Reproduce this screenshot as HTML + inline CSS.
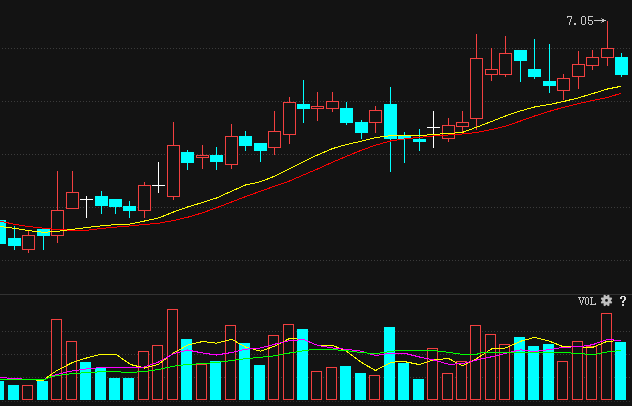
<!DOCTYPE html><html><head><meta charset="utf-8"><style>html,body{margin:0;padding:0;background:#131313;overflow:hidden}body{width:632px;height:406px;font-family:"Liberation Sans",sans-serif}</style></head><body><svg width="632" height="406" viewBox="0 0 632 406" style="display:block">
<rect width="632" height="406" fill="#131313"/>
<line x1="2" x2="632" y1="48.5" y2="48.5" stroke="#3b3b3b" stroke-width="1" stroke-dasharray="1 2" shape-rendering="crispEdges"/>
<line x1="2" x2="632" y1="101.5" y2="101.5" stroke="#3b3b3b" stroke-width="1" stroke-dasharray="1 2" shape-rendering="crispEdges"/>
<line x1="2" x2="632" y1="154.5" y2="154.5" stroke="#3b3b3b" stroke-width="1" stroke-dasharray="1 2" shape-rendering="crispEdges"/>
<line x1="2" x2="632" y1="207.5" y2="207.5" stroke="#3b3b3b" stroke-width="1" stroke-dasharray="1 2" shape-rendering="crispEdges"/>
<line x1="2" x2="632" y1="260.5" y2="260.5" stroke="#3b3b3b" stroke-width="1" stroke-dasharray="1 2" shape-rendering="crispEdges"/>
<line x1="2" x2="632" y1="331.5" y2="331.5" stroke="#3b3b3b" stroke-width="1" stroke-dasharray="1 2" shape-rendering="crispEdges"/>
<line x1="2" x2="632" y1="354.5" y2="354.5" stroke="#3b3b3b" stroke-width="1" stroke-dasharray="1 2" shape-rendering="crispEdges"/>
<line x1="2" x2="632" y1="377.5" y2="377.5" stroke="#3b3b3b" stroke-width="1" stroke-dasharray="1 2" shape-rendering="crispEdges"/>
<line x1="2" x2="632" y1="401.5" y2="401.5" stroke="#2e2e2e" stroke-width="1" stroke-dasharray="1 2" shape-rendering="crispEdges"/>
<rect x="0" y="294" width="632" height="1" fill="#323232"/>
<rect x="-1.0" y="220.00" width="1" height="24.00" fill="#00ffff"/>
<rect x="-7" y="220.00" width="13" height="24.00" fill="#00ffff"/>
<rect x="14.0" y="226.00" width="1" height="24.00" fill="#00ffff"/>
<rect x="8" y="238.00" width="13" height="8.00" fill="#00ffff"/>
<rect x="28.0" y="230.00" width="1" height="5.00" fill="#f24040"/>
<rect x="28.0" y="250.00" width="1" height="3.00" fill="#f24040"/>
<rect x="22.5" y="235.50" width="12" height="14.00" fill="#131313" stroke="#f24040" stroke-width="1"/>
<rect x="43.0" y="229.00" width="1" height="21.00" fill="#00ffff"/>
<rect x="37" y="229.00" width="13" height="7.00" fill="#00ffff"/>
<rect x="57.0" y="171.00" width="1" height="39.00" fill="#f24040"/>
<rect x="57.0" y="236.00" width="1" height="7.00" fill="#f24040"/>
<rect x="51.5" y="210.50" width="12" height="25.00" fill="#131313" stroke="#f24040" stroke-width="1"/>
<rect x="72.0" y="171.00" width="1" height="21.00" fill="#f24040"/>
<rect x="72.0" y="209.00" width="1" height="0.00" fill="#f24040"/>
<rect x="66.5" y="192.50" width="12" height="16.00" fill="#131313" stroke="#f24040" stroke-width="1"/>
<rect x="86.0" y="196.00" width="1" height="22.00" fill="#fff"/>
<rect x="80" y="199.00" width="13" height="1" fill="#fff"/>
<rect x="101.0" y="191.00" width="1" height="23.00" fill="#00ffff"/>
<rect x="95" y="196.00" width="13" height="10.00" fill="#00ffff"/>
<rect x="115.0" y="199.00" width="1" height="15.00" fill="#00ffff"/>
<rect x="109" y="199.00" width="13" height="8.00" fill="#00ffff"/>
<rect x="129.0" y="201.00" width="1" height="17.00" fill="#00ffff"/>
<rect x="123" y="206.00" width="13" height="5.00" fill="#00ffff"/>
<rect x="144.0" y="182.00" width="1" height="3.00" fill="#f24040"/>
<rect x="144.0" y="211.00" width="1" height="7.00" fill="#f24040"/>
<rect x="138.5" y="185.50" width="12" height="25.00" fill="#131313" stroke="#f24040" stroke-width="1"/>
<rect x="158.0" y="162.00" width="1" height="31.00" fill="#fff"/>
<rect x="152" y="185.00" width="13" height="1" fill="#fff"/>
<rect x="173.0" y="122.00" width="1" height="23.00" fill="#f24040"/>
<rect x="173.0" y="197.00" width="1" height="3.00" fill="#f24040"/>
<rect x="167.5" y="145.50" width="12" height="51.00" fill="#131313" stroke="#f24040" stroke-width="1"/>
<rect x="187.0" y="150.00" width="1" height="20.00" fill="#00ffff"/>
<rect x="181" y="152.00" width="13" height="11.00" fill="#00ffff"/>
<rect x="202.0" y="145.00" width="1" height="10.00" fill="#f24040"/>
<rect x="202.0" y="158.00" width="1" height="11.00" fill="#f24040"/>
<rect x="196.5" y="155.50" width="12" height="2.00" fill="#131313" stroke="#f24040" stroke-width="1"/>
<rect x="216.0" y="147.00" width="1" height="23.00" fill="#00ffff"/>
<rect x="210" y="155.00" width="13" height="7.00" fill="#00ffff"/>
<rect x="231.0" y="124.00" width="1" height="12.00" fill="#f24040"/>
<rect x="231.0" y="165.00" width="1" height="4.00" fill="#f24040"/>
<rect x="225.5" y="136.50" width="12" height="28.00" fill="#131313" stroke="#f24040" stroke-width="1"/>
<rect x="245.0" y="131.00" width="1" height="20.00" fill="#00ffff"/>
<rect x="239" y="136.00" width="13" height="10.00" fill="#00ffff"/>
<rect x="260.0" y="143.00" width="1" height="19.00" fill="#00ffff"/>
<rect x="254" y="143.00" width="13" height="8.00" fill="#00ffff"/>
<rect x="274.0" y="111.00" width="1" height="20.00" fill="#f24040"/>
<rect x="274.0" y="148.00" width="1" height="7.00" fill="#f24040"/>
<rect x="268.5" y="131.50" width="12" height="16.00" fill="#131313" stroke="#f24040" stroke-width="1"/>
<rect x="289.0" y="97.00" width="1" height="5.00" fill="#f24040"/>
<rect x="289.0" y="135.00" width="1" height="9.00" fill="#f24040"/>
<rect x="283.5" y="102.50" width="12" height="32.00" fill="#131313" stroke="#f24040" stroke-width="1"/>
<rect x="303.0" y="80.00" width="1" height="43.00" fill="#00ffff"/>
<rect x="297" y="104.00" width="13" height="5.00" fill="#00ffff"/>
<rect x="317.0" y="92.00" width="1" height="14.00" fill="#f24040"/>
<rect x="317.0" y="109.00" width="1" height="12.00" fill="#f24040"/>
<rect x="311.5" y="106.50" width="12" height="2.00" fill="#131313" stroke="#f24040" stroke-width="1"/>
<rect x="332.0" y="92.00" width="1" height="9.00" fill="#f24040"/>
<rect x="332.0" y="109.00" width="1" height="3.00" fill="#f24040"/>
<rect x="326.5" y="101.50" width="12" height="7.00" fill="#131313" stroke="#f24040" stroke-width="1"/>
<rect x="346.0" y="102.00" width="1" height="23.00" fill="#00ffff"/>
<rect x="340" y="108.00" width="13" height="15.00" fill="#00ffff"/>
<rect x="361.0" y="120.00" width="1" height="19.00" fill="#00ffff"/>
<rect x="355" y="122.00" width="13" height="11.00" fill="#00ffff"/>
<rect x="375.0" y="106.00" width="1" height="4.00" fill="#f24040"/>
<rect x="375.0" y="123.00" width="1" height="10.00" fill="#f24040"/>
<rect x="369.5" y="110.50" width="12" height="12.00" fill="#131313" stroke="#f24040" stroke-width="1"/>
<rect x="390.0" y="87.00" width="1" height="85.00" fill="#00ffff"/>
<rect x="384" y="104.00" width="13" height="35.00" fill="#00ffff"/>
<rect x="404.0" y="132.00" width="1" height="31.00" fill="#00ffff"/>
<rect x="398" y="135.00" width="13" height="4.00" fill="#00ffff"/>
<rect x="419.0" y="129.00" width="1" height="22.00" fill="#00ffff"/>
<rect x="413" y="139.00" width="13" height="3.00" fill="#00ffff"/>
<rect x="433.0" y="111.00" width="1" height="37.00" fill="#fff"/>
<rect x="427" y="127.00" width="13" height="1" fill="#fff"/>
<rect x="448.0" y="118.00" width="1" height="7.00" fill="#f24040"/>
<rect x="448.0" y="139.00" width="1" height="3.00" fill="#f24040"/>
<rect x="442.5" y="125.50" width="12" height="13.00" fill="#131313" stroke="#f24040" stroke-width="1"/>
<rect x="462.0" y="111.00" width="1" height="11.00" fill="#f24040"/>
<rect x="462.0" y="127.00" width="1" height="5.00" fill="#f24040"/>
<rect x="456.5" y="122.50" width="12" height="4.00" fill="#131313" stroke="#f24040" stroke-width="1"/>
<rect x="476.0" y="34.00" width="1" height="24.00" fill="#f24040"/>
<rect x="476.0" y="119.00" width="1" height="11.00" fill="#f24040"/>
<rect x="470.5" y="58.50" width="12" height="60.00" fill="#131313" stroke="#f24040" stroke-width="1"/>
<rect x="491.0" y="48.00" width="1" height="21.00" fill="#f24040"/>
<rect x="491.0" y="75.00" width="1" height="6.00" fill="#f24040"/>
<rect x="485.5" y="69.50" width="12" height="5.00" fill="#131313" stroke="#f24040" stroke-width="1"/>
<rect x="505.0" y="36.00" width="1" height="17.00" fill="#f24040"/>
<rect x="505.0" y="75.00" width="1" height="2.00" fill="#f24040"/>
<rect x="499.5" y="53.50" width="12" height="21.00" fill="#131313" stroke="#f24040" stroke-width="1"/>
<rect x="520.0" y="50.00" width="1" height="32.00" fill="#00ffff"/>
<rect x="514" y="50.00" width="13" height="11.00" fill="#00ffff"/>
<rect x="534.0" y="39.00" width="1" height="40.00" fill="#00ffff"/>
<rect x="528" y="69.00" width="13" height="8.00" fill="#00ffff"/>
<rect x="549.0" y="44.00" width="1" height="49.00" fill="#00ffff"/>
<rect x="543" y="81.00" width="13" height="5.00" fill="#00ffff"/>
<rect x="563.0" y="74.00" width="1" height="4.00" fill="#f24040"/>
<rect x="563.0" y="91.00" width="1" height="9.00" fill="#f24040"/>
<rect x="557.5" y="78.50" width="12" height="12.00" fill="#131313" stroke="#f24040" stroke-width="1"/>
<rect x="578.0" y="51.00" width="1" height="13.00" fill="#f24040"/>
<rect x="578.0" y="77.00" width="1" height="12.00" fill="#f24040"/>
<rect x="572.5" y="64.50" width="12" height="12.00" fill="#131313" stroke="#f24040" stroke-width="1"/>
<rect x="592.0" y="50.00" width="1" height="7.00" fill="#f24040"/>
<rect x="592.0" y="66.00" width="1" height="4.00" fill="#f24040"/>
<rect x="586.5" y="57.50" width="12" height="8.00" fill="#131313" stroke="#f24040" stroke-width="1"/>
<rect x="607.0" y="21.00" width="1" height="27.00" fill="#f24040"/>
<rect x="607.0" y="58.00" width="1" height="8.00" fill="#f24040"/>
<rect x="601.5" y="48.50" width="12" height="9.00" fill="#131313" stroke="#f24040" stroke-width="1"/>
<rect x="621.0" y="53.00" width="1" height="24.00" fill="#00ffff"/>
<rect x="615" y="57.00" width="13" height="18.00" fill="#00ffff"/>
<polyline fill="none" stroke="#ff0000" stroke-width="1" shape-rendering="crispEdges" points="0.00,221.20 14.50,224.30 28.50,226.50 43.50,228.20 57.50,229.50 72.50,230.30 86.50,230.30 101.50,228.50 115.50,227.10 130.50,225.90 144.50,224.50 158.50,223.20 173.50,220.50 187.50,217.30 202.50,212.80 216.50,207.80 231.50,202.00 245.50,196.60 260.50,191.25 274.50,186.25 289.50,181.00 303.50,174.90 317.50,169.00 332.50,162.20 346.50,156.30 361.50,150.20 375.50,145.20 390.50,141.00 404.50,139.00 419.50,137.30 433.50,136.00 448.50,135.00 462.50,134.00 476.50,132.50 491.50,129.60 505.50,126.20 520.50,121.00 534.50,116.00 549.50,111.30 563.50,107.30 578.50,103.60 592.50,100.50 607.50,97.50 621.10,93.30"/>
<polyline fill="none" stroke="#ffff00" stroke-width="1" shape-rendering="crispEdges" points="0.00,226.50 14.50,228.30 28.50,230.60 43.50,232.30 57.50,231.40 72.50,229.30 86.50,227.50 101.50,225.80 115.50,224.60 130.50,224.00 144.50,221.00 158.50,218.00 173.50,212.00 187.50,207.00 202.50,202.50 216.50,198.00 231.50,191.25 245.50,185.00 260.50,181.75 274.50,176.25 289.50,168.75 303.50,161.70 317.50,155.00 332.50,148.60 346.50,144.50 361.50,141.25 375.50,137.50 390.50,135.75 404.50,135.75 419.50,135.75 433.50,134.30 448.50,133.60 462.50,132.40 476.50,127.20 491.50,121.50 505.50,116.00 520.50,110.90 534.50,107.00 549.50,104.50 563.50,101.50 578.50,97.80 592.50,93.60 607.50,89.00 621.10,86.30"/>
<rect x="-7" y="381.00" width="11" height="19.00" fill="#00ffff"/>
<rect x="8" y="385.00" width="11" height="15.00" fill="#00ffff"/>
<rect x="22.5" y="385.50" width="10" height="14.00" fill="#131313" stroke="#f24040" stroke-width="1"/>
<rect x="37" y="381.00" width="11" height="19.00" fill="#00ffff"/>
<rect x="51.5" y="319.50" width="10" height="80.00" fill="#131313" stroke="#f24040" stroke-width="1"/>
<rect x="66.5" y="341.50" width="10" height="58.00" fill="#131313" stroke="#f24040" stroke-width="1"/>
<rect x="80" y="362.00" width="11" height="38.00" fill="#00ffff"/>
<rect x="95" y="368.00" width="11" height="32.00" fill="#00ffff"/>
<rect x="109" y="378.00" width="11" height="22.00" fill="#00ffff"/>
<rect x="123" y="378.00" width="11" height="22.00" fill="#00ffff"/>
<rect x="138.5" y="351.50" width="10" height="48.00" fill="#131313" stroke="#f24040" stroke-width="1"/>
<rect x="152.5" y="345.50" width="10" height="54.00" fill="#131313" stroke="#f24040" stroke-width="1"/>
<rect x="167.5" y="309.50" width="10" height="90.00" fill="#131313" stroke="#f24040" stroke-width="1"/>
<rect x="181" y="339.00" width="11" height="61.00" fill="#00ffff"/>
<rect x="196.5" y="364.50" width="10" height="35.00" fill="#131313" stroke="#f24040" stroke-width="1"/>
<rect x="210" y="361.00" width="11" height="39.00" fill="#00ffff"/>
<rect x="225.5" y="325.50" width="10" height="74.00" fill="#131313" stroke="#f24040" stroke-width="1"/>
<rect x="239" y="343.00" width="11" height="57.00" fill="#00ffff"/>
<rect x="254" y="365.00" width="11" height="35.00" fill="#00ffff"/>
<rect x="268.5" y="335.50" width="10" height="64.00" fill="#131313" stroke="#f24040" stroke-width="1"/>
<rect x="283.5" y="324.50" width="10" height="75.00" fill="#131313" stroke="#f24040" stroke-width="1"/>
<rect x="297" y="329.00" width="11" height="71.00" fill="#00ffff"/>
<rect x="311.5" y="371.50" width="10" height="28.00" fill="#131313" stroke="#f24040" stroke-width="1"/>
<rect x="326.5" y="367.50" width="10" height="32.00" fill="#131313" stroke="#f24040" stroke-width="1"/>
<rect x="340" y="366.00" width="11" height="34.00" fill="#00ffff"/>
<rect x="355" y="373.00" width="11" height="27.00" fill="#00ffff"/>
<rect x="369.5" y="375.50" width="10" height="24.00" fill="#131313" stroke="#f24040" stroke-width="1"/>
<rect x="384" y="327.00" width="11" height="73.00" fill="#00ffff"/>
<rect x="398" y="363.00" width="11" height="37.00" fill="#00ffff"/>
<rect x="413" y="379.00" width="11" height="21.00" fill="#00ffff"/>
<rect x="427.5" y="348.50" width="10" height="51.00" fill="#131313" stroke="#f24040" stroke-width="1"/>
<rect x="442.5" y="373.50" width="10" height="26.00" fill="#131313" stroke="#f24040" stroke-width="1"/>
<rect x="456.5" y="361.50" width="10" height="38.00" fill="#131313" stroke="#f24040" stroke-width="1"/>
<rect x="470.5" y="325.50" width="10" height="74.00" fill="#131313" stroke="#f24040" stroke-width="1"/>
<rect x="485.5" y="334.50" width="10" height="65.00" fill="#131313" stroke="#f24040" stroke-width="1"/>
<rect x="499.5" y="344.50" width="10" height="55.00" fill="#131313" stroke="#f24040" stroke-width="1"/>
<rect x="514" y="337.00" width="11" height="63.00" fill="#00ffff"/>
<rect x="528" y="346.00" width="11" height="54.00" fill="#00ffff"/>
<rect x="543" y="344.00" width="11" height="56.00" fill="#00ffff"/>
<rect x="557.5" y="361.50" width="10" height="38.00" fill="#131313" stroke="#f24040" stroke-width="1"/>
<rect x="572.5" y="341.50" width="10" height="58.00" fill="#131313" stroke="#f24040" stroke-width="1"/>
<rect x="586.5" y="346.50" width="10" height="53.00" fill="#131313" stroke="#f24040" stroke-width="1"/>
<rect x="601.5" y="313.50" width="10" height="86.00" fill="#131313" stroke="#f24040" stroke-width="1"/>
<rect x="615" y="342.00" width="11" height="58.00" fill="#00ffff"/>
<polyline fill="none" stroke="#ffff00" stroke-width="1" shape-rendering="crispEdges" points="0.00,379.50 35.50,379.50 36.50,380.50 43.50,380.50 44.50,379.30 50.50,374.90 57.50,370.20 72.50,362.50 86.50,358.00 101.50,354.00 115.50,354.00 130.50,364.50 144.50,368.00 158.50,364.30 173.50,353.00 187.50,345.20 202.50,341.50 216.50,343.25 231.50,339.25 245.50,347.00 260.50,351.25 274.50,346.25 289.50,338.50 303.50,339.50 317.50,345.30 332.50,345.30 346.50,351.25 361.50,362.50 375.50,370.50 390.50,362.70 397.50,361.70 404.50,361.60 419.50,364.60 433.50,359.80 448.50,358.50 462.50,365.70 476.50,358.60 491.50,349.00 505.50,348.00 520.50,341.30 534.50,337.40 549.50,341.20 563.50,346.80 578.50,346.80 592.50,347.40 607.50,341.20 621.10,340.70"/>
<polyline fill="none" stroke="#ff00ff" stroke-width="1" shape-rendering="crispEdges" points="0.00,377.50 6.50,377.50 7.50,378.50 21.50,378.50 22.50,379.50 44.50,379.50 50.50,376.70 57.50,374.30 72.50,370.80 86.50,369.00 101.50,367.50 115.50,367.50 130.50,367.80 144.50,367.00 158.50,362.00 173.50,353.75 187.50,350.00 202.50,353.00 216.50,355.00 231.50,352.50 245.50,349.25 260.50,348.00 274.50,344.25 289.50,340.75 303.50,339.50 317.50,345.30 332.50,348.00 346.50,349.30 361.50,351.25 375.50,355.50 390.50,353.25 404.50,353.25 419.50,357.00 433.50,360.00 448.50,364.25 462.50,363.70 476.50,360.00 491.50,356.80 505.50,353.40 520.50,349.80 534.50,351.50 549.50,349.60 563.50,347.20 578.50,346.80 592.50,344.70 607.50,339.50 621.10,340.60"/>
<polyline fill="none" stroke="#00ff00" stroke-width="1" shape-rendering="crispEdges" points="0.00,379.50 44.50,379.50 50.50,377.00 57.50,375.50 72.50,373.60 86.50,372.60 101.50,371.75 115.50,371.75 130.50,372.50 144.50,371.50 158.50,369.50 173.50,366.25 187.50,364.50 202.50,363.60 216.50,362.50 231.50,360.50 245.50,358.70 260.50,357.30 274.50,355.90 289.50,353.00 303.50,350.75 310.50,349.75 332.50,349.50 346.50,350.75 361.50,352.50 375.50,353.75 390.50,351.50 397.50,350.60 419.50,350.60 433.50,350.60 448.50,352.30 462.50,354.40 476.50,354.40 481.50,352.50 491.50,352.40 505.50,352.30 520.50,352.30 534.50,352.30 549.50,352.40 563.50,352.60 578.50,353.40 592.50,354.80 607.50,352.00 621.10,350.40"/>
<rect x="567" y="16" width="5" height="1" fill="#c8c8c8"/>
<rect x="567" y="17" width="1" height="1" fill="#c8c8c8"/>
<rect x="571" y="17" width="1" height="1" fill="#c8c8c8"/>
<rect x="571" y="18" width="1" height="1" fill="#c8c8c8"/>
<rect x="570" y="19" width="1" height="1" fill="#c8c8c8"/>
<rect x="570" y="20" width="1" height="1" fill="#c8c8c8"/>
<rect x="570" y="21" width="1" height="1" fill="#c8c8c8"/>
<rect x="569" y="22" width="1" height="1" fill="#c8c8c8"/>
<rect x="569" y="23" width="1" height="1" fill="#c8c8c8"/>
<rect x="569" y="24" width="1" height="1" fill="#c8c8c8"/>
<rect x="574" y="23" width="2" height="1" fill="#c8c8c8"/>
<rect x="574" y="24" width="2" height="1" fill="#c8c8c8"/>
<rect x="582" y="16" width="3" height="1" fill="#c8c8c8"/>
<rect x="581" y="17" width="1" height="1" fill="#c8c8c8"/>
<rect x="585" y="17" width="1" height="1" fill="#c8c8c8"/>
<rect x="581" y="18" width="1" height="1" fill="#c8c8c8"/>
<rect x="585" y="18" width="1" height="1" fill="#c8c8c8"/>
<rect x="581" y="19" width="1" height="1" fill="#c8c8c8"/>
<rect x="585" y="19" width="1" height="1" fill="#c8c8c8"/>
<rect x="581" y="20" width="1" height="1" fill="#c8c8c8"/>
<rect x="585" y="20" width="1" height="1" fill="#c8c8c8"/>
<rect x="581" y="21" width="1" height="1" fill="#c8c8c8"/>
<rect x="585" y="21" width="1" height="1" fill="#c8c8c8"/>
<rect x="581" y="22" width="1" height="1" fill="#c8c8c8"/>
<rect x="585" y="22" width="1" height="1" fill="#c8c8c8"/>
<rect x="581" y="23" width="1" height="1" fill="#c8c8c8"/>
<rect x="585" y="23" width="1" height="1" fill="#c8c8c8"/>
<rect x="582" y="24" width="3" height="1" fill="#c8c8c8"/>
<rect x="588" y="16" width="5" height="1" fill="#c8c8c8"/>
<rect x="588" y="17" width="1" height="1" fill="#c8c8c8"/>
<rect x="588" y="18" width="1" height="1" fill="#c8c8c8"/>
<rect x="588" y="19" width="1" height="1" fill="#c8c8c8"/>
<rect x="588" y="20" width="4" height="1" fill="#c8c8c8"/>
<rect x="592" y="21" width="1" height="1" fill="#c8c8c8"/>
<rect x="588" y="22" width="1" height="1" fill="#c8c8c8"/>
<rect x="592" y="22" width="1" height="1" fill="#c8c8c8"/>
<rect x="588" y="23" width="1" height="1" fill="#c8c8c8"/>
<rect x="592" y="23" width="1" height="1" fill="#c8c8c8"/>
<rect x="589" y="24" width="3" height="1" fill="#c8c8c8"/>
<rect x="594" y="20" width="12" height="1" fill="#c8c8c8"/>
<rect x="602" y="19" width="2" height="3" fill="#c8c8c8"/>
<rect x="601" y="18" width="1" height="1" fill="#8a8a8a"/>
<rect x="601" y="22" width="1" height="1" fill="#8a8a8a"/>
<rect x="578" y="297" width="3" height="1" fill="#c8c8c8"/>
<rect x="582" y="297" width="3" height="1" fill="#c8c8c8"/>
<rect x="579" y="298" width="1" height="1" fill="#c8c8c8"/>
<rect x="583" y="298" width="1" height="1" fill="#c8c8c8"/>
<rect x="579" y="299" width="1" height="1" fill="#c8c8c8"/>
<rect x="583" y="299" width="1" height="1" fill="#c8c8c8"/>
<rect x="580" y="300" width="1" height="1" fill="#c8c8c8"/>
<rect x="582" y="300" width="1" height="1" fill="#c8c8c8"/>
<rect x="580" y="301" width="1" height="1" fill="#c8c8c8"/>
<rect x="582" y="301" width="1" height="1" fill="#c8c8c8"/>
<rect x="580" y="302" width="1" height="1" fill="#c8c8c8"/>
<rect x="582" y="302" width="1" height="1" fill="#c8c8c8"/>
<rect x="581" y="303" width="1" height="1" fill="#c8c8c8"/>
<rect x="581" y="304" width="1" height="1" fill="#c8c8c8"/>
<rect x="586" y="297" width="2" height="1" fill="#c8c8c8"/>
<rect x="585" y="298" width="1" height="1" fill="#c8c8c8"/>
<rect x="588" y="298" width="1" height="1" fill="#c8c8c8"/>
<rect x="585" y="299" width="1" height="1" fill="#c8c8c8"/>
<rect x="588" y="299" width="1" height="1" fill="#c8c8c8"/>
<rect x="585" y="300" width="1" height="1" fill="#c8c8c8"/>
<rect x="588" y="300" width="1" height="1" fill="#c8c8c8"/>
<rect x="585" y="301" width="1" height="1" fill="#c8c8c8"/>
<rect x="588" y="301" width="1" height="1" fill="#c8c8c8"/>
<rect x="585" y="302" width="1" height="1" fill="#c8c8c8"/>
<rect x="588" y="302" width="1" height="1" fill="#c8c8c8"/>
<rect x="585" y="303" width="1" height="1" fill="#c8c8c8"/>
<rect x="588" y="303" width="1" height="1" fill="#c8c8c8"/>
<rect x="586" y="304" width="2" height="1" fill="#c8c8c8"/>
<rect x="590" y="297" width="3" height="1" fill="#c8c8c8"/>
<rect x="591" y="298" width="1" height="1" fill="#c8c8c8"/>
<rect x="591" y="299" width="1" height="1" fill="#c8c8c8"/>
<rect x="591" y="300" width="1" height="1" fill="#c8c8c8"/>
<rect x="591" y="301" width="1" height="1" fill="#c8c8c8"/>
<rect x="591" y="302" width="1" height="1" fill="#c8c8c8"/>
<rect x="591" y="303" width="1" height="1" fill="#c8c8c8"/>
<rect x="595" y="303" width="1" height="1" fill="#c8c8c8"/>
<rect x="590" y="304" width="6" height="1" fill="#c8c8c8"/>
<path d="M612.20 301.98 L611.61 303.40 L609.40 303.35 L609.45 305.56 L608.03 306.15 L606.50 304.55 L604.97 306.15 L603.55 305.56 L603.60 303.35 L601.39 303.40 L600.80 301.98 L602.40 300.45 L600.80 298.92 L601.39 297.50 L603.60 297.55 L603.55 295.34 L604.97 294.75 L606.50 296.35 L608.03 294.75 L609.45 295.34 L609.40 297.55 L611.61 297.50 L612.20 298.92 L610.60 300.45 Z M605.10 300.45 a1.4 1.4 0 1 0 2.8 0 a1.4 1.4 0 1 0 -2.8 0 Z" fill="#c0c0c0" fill-rule="evenodd"/>
<rect x="621" y="296" width="4" height="1" fill="#dcdcdc"/>
<rect x="620" y="297" width="2" height="1" fill="#dcdcdc"/>
<rect x="624" y="297" width="2" height="1" fill="#dcdcdc"/>
<rect x="620" y="298" width="2" height="1" fill="#dcdcdc"/>
<rect x="624" y="298" width="2" height="1" fill="#dcdcdc"/>
<rect x="624" y="299" width="2" height="1" fill="#dcdcdc"/>
<rect x="623" y="300" width="2" height="1" fill="#dcdcdc"/>
<rect x="622" y="301" width="2" height="1" fill="#dcdcdc"/>
<rect x="622" y="302" width="2" height="1" fill="#dcdcdc"/>
<rect x="622" y="304" width="2" height="1" fill="#dcdcdc"/>
<rect x="622" y="305" width="2" height="1" fill="#dcdcdc"/>
</svg></body></html>
